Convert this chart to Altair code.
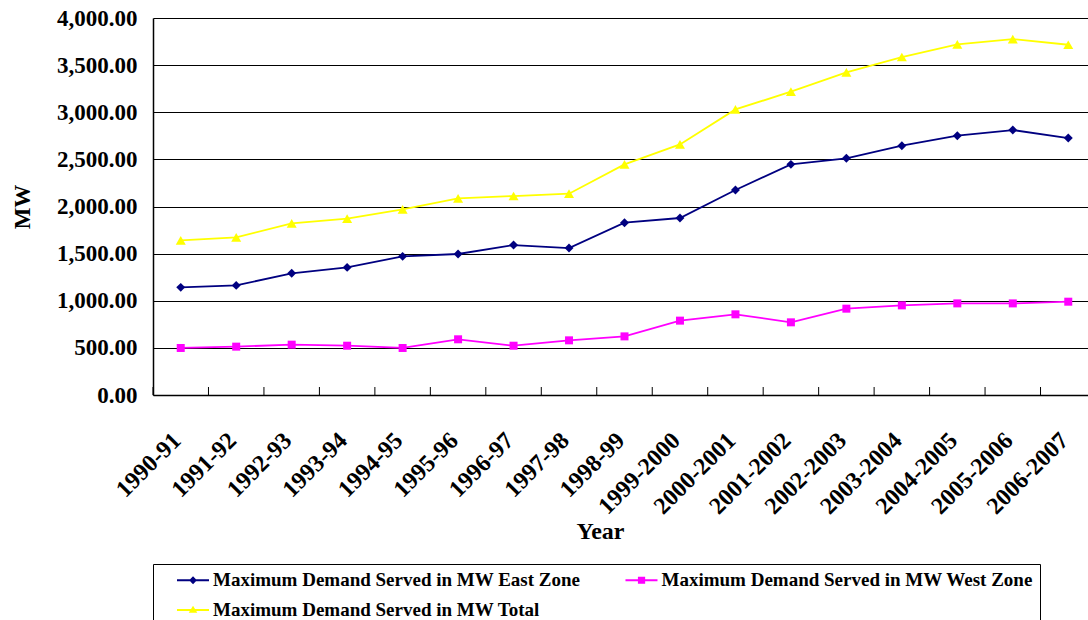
import altair as alt
import pandas as pd

# Financial years on the category axis
years = ["1990-91", "1991-92", "1992-93", "1993-94", "1994-95", "1995-96",
         "1996-97", "1997-98", "1998-99", "1999-2000", "2000-2001",
         "2001-2002", "2002-2003", "2003-2004", "2004-2005", "2005-2006",
         "2006-2007"]

# Maximum demand served (MW)
east = [1142, 1163, 1291, 1354, 1471, 1496, 1591, 1559, 1828, 1878,
        2175, 2447, 2511, 2645, 2751, 2811, 2726]
west = [499, 513, 534, 523, 499, 591, 523, 580, 622, 789,
        856, 771, 916, 951, 972, 972, 990]
total = [1641, 1672, 1821, 1871, 1970, 2086, 2111, 2136, 2447, 2659,
         3030, 3218, 3423, 3586, 3720, 3776, 3716]

series_names = ["Maximum Demand Served in MW East Zone",
                "Maximum Demand Served in MW West Zone",
                "Maximum Demand Served in MW Total"]
series_values = [east, west, total]
series_colors = ["#000080", "#FF00FF", "#FFFF00"]
series_shapes = ["diamond", "square", "triangle-up"]
series_sizes = [80, 64, 100]
y_ticks = [0, 500, 1000, 1500, 2000, 2500, 3000, 3500, 4000]

# Legend glyphs: a short line stub with the series marker in the middle
stub = "M0.84,-0.1L4.21,-0.1L4.21,0.1L0.84,0.1Z"
legend_glyphs = [
    stub + "M2.12,0L2.53,-0.42L2.94,0L2.53,0.42Z",
    stub + "M2.15,-0.38L2.91,-0.38L2.91,0.38L2.15,0.38Z",
    stub + "M2.53,-0.46L2.98,0.3L2.08,0.3Z",
]

rows = []
for name, vals in zip(series_names, series_values):
    for yr, v in zip(years, vals):
        rows.append({"Year": yr, "MW": v, "Series": name})
df = pd.DataFrame(rows)

FONT = "Liberation Serif"
W, H = 935, 377

x_axis = alt.Axis(
    ticks=False, grid=False, domainColor="black", domainWidth=1.5,
    labelAngle=-45, labelAlign="right", labelBaseline="top",
    labelFont=FONT, labelFontSize=24, labelFontWeight="bold",
    labelColor="black", labelPadding=33, labelOffset=-12,
    titleFont=FONT, titleFontSize=24, titleFontWeight="bold",
    titleColor="black", titleX=447, titleY=136, titleBaseline="middle",
)
x_scale = alt.Scale(type="band", paddingInner=0, paddingOuter=0,
                    range=[0, 943])

y_axis = alt.Axis(
    values=y_ticks, format=",.2f", ticks=False,
    grid=True, gridColor="black", gridWidth=1, gridOpacity=1,
    domainColor="black", domainWidth=1.5,
    labelFont=FONT, labelFontSize=23, labelFontWeight="bold",
    labelColor="black", labelPadding=16,
    titleFont=FONT, titleFontSize=23, titleFontWeight="bold",
    titleColor="black", titlePadding=22,
)


def x_enc(band_pos):
    return alt.X("Year:N", sort=years, bandPosition=band_pos,
                 scale=x_scale, axis=x_axis, title="Year")


y_enc = alt.Y("MW:Q", scale=alt.Scale(domain=[0, 4000]), axis=y_axis,
              title="MW")

base = alt.Chart(df)

# Small inward ticks at the category boundaries
boundary_ticks = alt.Chart(pd.DataFrame({"Year": years})).mark_rule(
    color="black", strokeWidth=1
).encode(x=x_enc(0), y=alt.value(H - 8), y2=alt.value(H))

layers = [boundary_ticks]
for name, color, shape, size in zip(series_names, series_colors,
                                    series_shapes, series_sizes):
    sub = base.transform_filter(alt.datum.Series == name)
    layers.append(sub.mark_line(color=color, strokeWidth=1.8).encode(
        x=x_enc(0.5), y=y_enc))
    layers.append(sub.mark_point(shape=shape, filled=True, size=size,
                                 color=color, opacity=1).encode(
        x=x_enc(0.5), y=y_enc))

legend = alt.Legend(
    orient="none", legendX=0, legendY=546, columns=2, direction="horizontal",
    title=None,
    labelFont=FONT, labelFontSize=19, labelFontWeight="bold",
    labelColor="black", labelOffset=34.5, labelLimit=600,
    symbolSize=361, symbolStrokeWidth=0, symbolOpacity=1,
    strokeColor="black", fillColor="white", padding=6.5,
    rowPadding=10, columnPadding=27.5,
)

legend_layer = base.transform_filter("false").mark_point(
    filled=True, opacity=1
).encode(
    x=x_enc(0.5), y=y_enc,
    color=alt.Color("Series:N", legend=legend,
                    scale=alt.Scale(domain=series_names,
                                    range=series_colors)),
    shape=alt.Shape("Series:N", legend=legend,
                    scale=alt.Scale(domain=series_names,
                                    range=legend_glyphs)),
)
layers.append(legend_layer)

chart = alt.layer(*layers).properties(
    width=W, height=H,
    autosize=alt.AutoSizeParams(type="none"),
    padding={"left": 153, "top": 18, "right": 0, "bottom": 225},
    background="white",
).configure_view(stroke=None)

chart.save("out.html", embed_options={"renderer": "svg", "actions": False})
